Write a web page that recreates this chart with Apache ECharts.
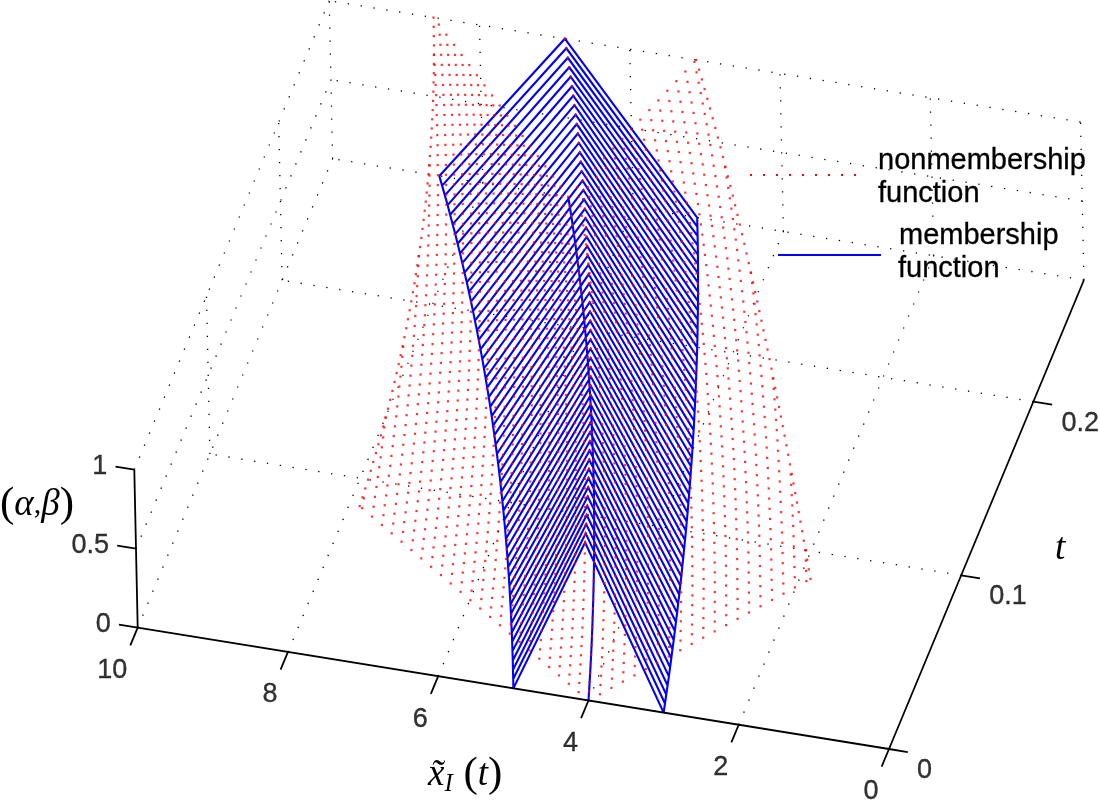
<!DOCTYPE html>
<html><head><meta charset="utf-8">
<style>html,body{margin:0;padding:0;background:#fff}#c{width:1100px;height:803px}</style>
<script src="https://cdn.jsdelivr.net/npm/echarts@6/dist/echarts.min.js"></script>
</head><body><div id="c"></div>
<script>
// ---------- values ----------
const tValues=[0,.005,.01,.015,.02,.025,.03,.035,.04,.045,.05,.055,.06,.065,.07,.075,.08,.085,.09,.095,.1,.105,.11,.115,.12,.125,.13,.135,.14,.145,.15,.155,.16,.165,.17,.175,.18,.185,.19,.195,.2,.205,.21,.215,.22,.225,.23,.235,.24,.245,.25,.255,.26,.265,.27];
const xCenter=[4.000,4.040,4.081,4.122,4.163,4.205,4.247,4.290,4.333,4.377,4.421,4.465,4.510,4.555,4.601,4.647,4.694,4.741,4.789,4.837,4.886,4.935,4.984,5.034,5.085,5.136,5.188,5.240,5.293,5.346,5.399,5.454,5.509,5.564,5.620,5.676,5.733,5.791,5.849,5.908,5.967,6.027,6.088,6.149,6.211,6.273,6.336,6.400,6.464,6.529,6.595,6.661,6.728,6.796,6.864];
const blueLeft=[5.000,5.050,5.101,5.152,5.204,5.256,5.309,5.363,5.416,5.471,5.526,5.581,5.637,5.694,5.751,5.809,5.868,5.926,5.986,6.046,6.107,6.168,6.230,6.293,6.356,6.420,6.485,6.550,6.616,6.682,6.749,6.817,6.886,6.955,7.025,7.095,7.167,7.239,7.311,7.385,7.459,7.534,7.610,7.686,7.764,7.842,7.920,8.000,8.080,8.162,8.244,8.326,8.410,8.495,8.580];
const blueRight=[3.000,3.030,3.061,3.091,3.122,3.154,3.186,3.218,3.250,3.283,3.316,3.349,3.383,3.416,3.451,3.485,3.521,3.556,3.592,3.628,3.664,3.701,3.738,3.776,3.814,3.852,3.891,3.930,3.969,4.009,4.050,4.090,4.131,4.173,4.215,4.257,4.300,4.343,4.387,4.431,4.475,4.520,4.566,4.612,4.658,4.705,4.752,4.800,4.848,4.897,4.946,4.996,5.046,5.097,5.148];
const redWidth=[3.000,2.970,2.941,2.911,2.882,2.854,2.825,2.797,2.769,2.742,2.715,2.687,2.661,2.634,2.608,2.582,2.556,2.531,2.506,2.481,2.456,2.432,2.408,2.384,2.360,2.336,2.313,2.290,2.267,2.245,2.222,2.200,2.178,2.157,2.135,2.114,2.093,2.072,2.052,2.031,2.011,1.991,1.971,1.952,1.932,1.913,1.894,1.875,1.856,1.838,1.820,1.801,1.784,1.766,1.748];
const redStepLeft=[.1290,.1284,.1279,.1273,.1268,.1262,.1256,.1251,.1245,.1240,.1234,.1228,.1223,.1217,.1212,.1206,.1200,.1195,.1189,.1184,.1178,.1172,.1167,.1161,.1156,.1150,.1144,.1139,.1133,.1128,.1122,.1116,.1111,.1105,.1100,.1094,.1088,.1083,.1077,.1072,.1066,.1060,.1055,.1049,.1044,.1038,.1032,.1027,.1021,.1016,.1010,.1004,.0999,.0993,.0988];
const redStepRight=[.1550,.1544,.1538,.1532,.1526,.1521,.1515,.1509,.1503,.1497,.1491,.1485,.1479,.1473,.1467,.1462,.1456,.1450,.1444,.1438,.1432,.1426,.1420,.1414,.1408,.1403,.1397,.1391,.1385,.1379,.1373,.1367,.1361,.1355,.1349,.1344,.1338,.1332,.1326,.1320,.1314,.1308,.1302,.1296,.1290,.1285,.1279,.1273,.1267,.1261,.1255,.1249,.1243,.1237,.1231];
const xTicks=[0,2,4,6,8,10];
const tTicks=[0,0.1,0.2];
const zTicks=[0,0.5,1];
const xRange=[0,10], tRange=[0,0.27], zRange=[0,1];

// ---------- 3D view of the box onto the page's axes ----------
const origin=[889,749], xVec=[-75.13,-12.13], tVec=[722,-1737], zVec=[-3.4,-158];
function P(x,t,z){return [origin[0]+x*xVec[0]+t*tVec[0]+z*zVec[0], origin[1]+x*xVec[1]+t*tVec[1]+z*zVec[1]];}
const BREAK=['-','-'];
function seg(list,a,b){list.push(P(...a),P(...b),BREAK);}

// dotted box grid
const gridData=[];
const T=tRange[1];
xTicks.forEach(x=>{ if(x!==0&&x!==10) seg(gridData,[x,0,0],[x,T,0]); seg(gridData,[x,T,0],[x,T,1]); });
seg(gridData,[10,0,0],[10,T,0]);
seg(gridData,[0,T,0],[10,T,0]);
tTicks.filter(t=>t>0).forEach(t=>{ seg(gridData,[0,t,0],[10,t,0]); seg(gridData,[10,t,0],[10,t,1]); });
zTicks.filter(z=>z>0).forEach(z=>{ seg(gridData,[10,0,z],[10,T,z]); seg(gridData,[0,T,z],[10,T,z]); });

// solid axes and ticks
const axisData=[];
seg(axisData,[0,0,0],[10,0,0]);
seg(axisData,[0,0,0],[0,T,0]);
seg(axisData,[10,0,0],[10,0,1]);
xTicks.forEach(x=>seg(axisData,[x,0,0],[x,-0.0102,0]));
tTicks.forEach(t=>seg(axisData,[0,t,0],[-0.25,t,0]));
zTicks.forEach(z=>seg(axisData,[10,0,z],[10.25,0,z]));

// membership mesh
const blueData=[];
[blueLeft,blueRight,xCenter].forEach(arr=>{ tValues.forEach((t,i)=>blueData.push(P(arr[i],t,0))); blueData.push(BREAK); });
tValues.forEach((t,i)=>{ blueData.push(P(blueLeft[i],t,0),P(xCenter[i],t,1),P(blueRight[i],t,0),BREAK); });

// nonmembership dots
const redData=[];
tValues.forEach((t,i)=>{
  const c=xCenter[i], w=redWidth[i];
  redData.push(P(c,t,0),P(c,t,1));
  for(let k=1;k*redStepLeft[i]<w;k++){const d=k*redStepLeft[i];redData.push(P(c+d,t,d/w));}
  for(let k=1;k*redStepRight[i]<w;k++){const d=k*redStepRight[i];redData.push(P(c-d,t,d/w));}
  redData.push(P(c+w,t,1),P(c-w,t,1));
});

const tickFont={fontFamily:'"Liberation Sans",Arial,sans-serif',fontSize:27,color:'#000',textBorderColor:'#000',textBorderWidth:0.35};
function labelSeries(name,items,position,align){
  return {name,type:'scatter',symbolSize:0,silent:true,z:6,clip:false,animation:false,
    data:items.map(it=>({value:it.p,label:{show:true,formatter:it.text,position,align,verticalAlign:'middle',...tickFont}}))};
}
const MATH='"Liberation Serif","Times New Roman",serif';
const mathRich={
  n:{fontFamily:MATH,fontSize:43,color:'#000'},
  i:{fontFamily:MATH,fontSize:37,fontStyle:'italic',color:'#000'},
  c:{fontFamily:MATH,fontSize:30,color:'#000'},
  s:{fontFamily:MATH,fontSize:25,fontStyle:'italic',color:'#000',verticalAlign:'bottom',padding:[14,0,0,0]}
};
const chart=echarts.init(document.getElementById('c'),null,{renderer:'canvas'});
chart.setOption({
  animation:false,
  backgroundColor:'#fff',
  grid:{left:0,right:0,top:0,bottom:0},
  xAxis:{type:'value',min:0,max:1100,show:false},
  yAxis:{type:'value',min:0,max:803,inverse:true,show:false},
  series:[
    {name:'grid',type:'line',data:gridData,showSymbol:false,silent:true,clip:false,z:1,
     lineStyle:{color:'#000',width:1.3,type:[1.3,11.7],cap:'butt'}},
    {name:'membership function',type:'line',data:blueData,showSymbol:false,silent:true,clip:false,z:2,
     lineStyle:{color:'#0000ff',width:2.1,join:'miter'}},
    {name:'nonmembership function',type:'scatter',data:redData,symbol:'rect',symbolSize:2.2,silent:true,clip:false,z:3,
     itemStyle:{color:'#ff0000'}},
    {name:'axes',type:'line',data:axisData,showSymbol:false,silent:true,clip:false,z:4,
     lineStyle:{color:'#000',width:1.8}},
    labelSeries('x ticks',xTicks.map(x=>({p:P(x,0,0),text:String(x)})),[-10.5,43],'right'),
    labelSeries('t ticks',tTicks.map(t=>({p:P(0,t,0),text:String(t)})),[28,21.5],'left'),
    labelSeries('z ticks',zTicks.map(z=>({p:P(10,0,z),text:String(z)})),[-27,-3],'right')
  ],
  graphic:{elements:[
    {type:'group',silent:true,children:[
      ...[750,763,776,789,802,815,828,841,854].map(x=>({type:'rect',shape:{x:x,y:174,width:2,height:2},style:{fill:'#ff0000'}})),
      {type:'line',shape:{x1:778,y1:255,x2:881,y2:255},style:{stroke:'#0000ff',lineWidth:2}},
      ...[['nonmembership',878,175],['function',878,208.5],['membership',899,250],['function',898,283.5]].map(a=>({
        type:'text',style:{text:a[0],x:a[1],y:a[2],fill:'#000',font:'29px "Liberation Sans",Arial,sans-serif',textAlign:'left',textVerticalAlign:'bottom',stroke:'#000',lineWidth:0.3}})),
      {type:'text',style:{x:0,y:505,text:'{n|(}{i|α}{c|,}{i|β}{n|)}',rich:mathRich,textVerticalAlign:'middle'}},
      {type:'text',style:{x:428,y:775,text:'{i|x̃}{s|I}{n| (}{i|t}{n|)}',rich:mathRich,textVerticalAlign:'middle'}},
      {type:'text',style:{x:1055,y:549,text:'{i|t}',rich:mathRich,textVerticalAlign:'middle'}}
    ]}
  ]}
});
</script></body></html>
